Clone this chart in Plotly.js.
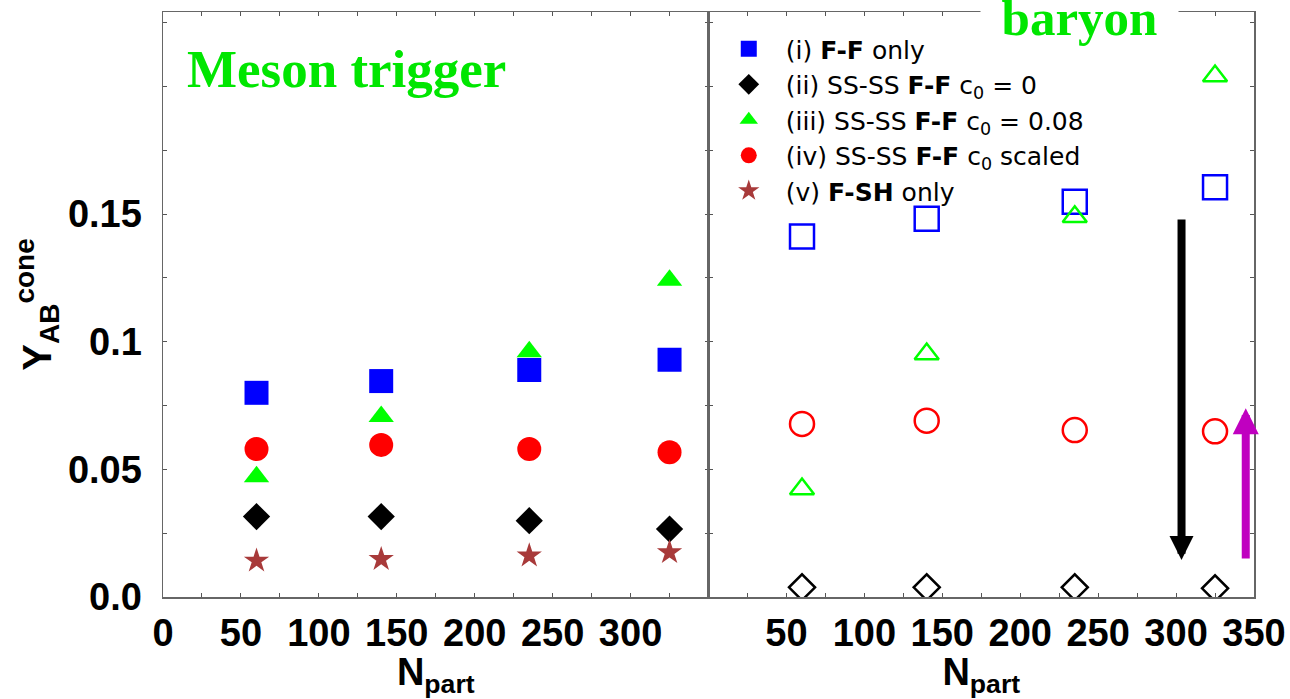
<!DOCTYPE html>
<html><head><meta charset="utf-8">
<script src="https://cdn.plot.ly/plotly-3.0.1.min.js"></script>
<style>html,body{margin:0;padding:0;background:#fff;} #chart{width:1290px;height:699px;}</style>
</head><body><div id="chart"></div>
<script>
// N_part values (centrality bins)
const npart = [60, 140, 235, 325];

// Meson trigger (left panel, filled symbols)
const mesonFF     = [0.0800, 0.0846, 0.0889, 0.0930];
const mesonC0Zero = [0.0315, 0.0315, 0.0299, 0.0266];
const mesonC008   = [0.0471, 0.0707, 0.0961, 0.1241];
const mesonScaled = [0.0580, 0.0596, 0.0580, 0.0567];
const mesonFSH    = [0.0142, 0.0148, 0.0162, 0.0175];

// Baryon trigger (right panel, open symbols)
const baryonFF     = [0.1412, 0.1482, 0.1549, 0.1605];
const baryonC0Zero = [0.0038, 0.0038, 0.0038, 0.0034];
const baryonC008   = [0.0423, 0.0952, 0.1490, 0.2041];
const baryonScaled = [0.0678, 0.0691, 0.0654, 0.0649];

// Legend labels
const seriesNames = [
  '(i) <b>F-F</b> only',
  '(ii) SS-SS <b>F-F</b> c<sub>0</sub> = 0',
  '(iii) SS-SS <b>F-F</b> c<sub>0</sub> = 0.08',
  '(iv) SS-SS <b>F-F</b> c<sub>0</sub> scaled',
  '(v) <b>F-SH</b> only'
];

// Tick labels
const xTickLeftVals  = [0, 50, 100, 150, 200, 250, 300];
const xTickLeftText  = ['0', '50', '100', '150', '200', '250', '300'];
const xTickRightVals = [50, 100, 150, 200, 250, 300, 350];
const xTickRightText = ['50', '100', '150', '200', '250', '300', '350'];
const yTickVals = [0, 0.05, 0.1, 0.15];
const yTickText = ['0.0', '0.05', '0.1', '0.15'];

const BLUE='#0000ff', BLACK='#000000', GREEN='#00ff00', RED='#ff0000', BROWN='#a83a3a';
const TXTGREEN='#00e600';

function filled(y, name, symbol, size, color, rank){
  return {x:npart, y:y, name:name, type:'scatter', mode:'markers', xaxis:'x', yaxis:'y',
    legendrank:rank, marker:{symbol:symbol, size:size, color:color, line:{width:0}}};
}
function open(y, symbol, size, color){
  return {x:npart, y:y, type:'scatter', mode:'markers', xaxis:'x2', yaxis:'y2', showlegend:false,
    marker:{symbol:symbol, size:size, color:color, line:{width:2.5, color:color}}};
}

const data = [
  filled(mesonScaled, seriesNames[3], 'circle', 24, RED, 4),
  filled(mesonC008, seriesNames[2], 'triangle-up', 22, GREEN, 3),
  filled(mesonFF, seriesNames[0], 'square', 24, BLUE, 1),
  filled(mesonC0Zero, seriesNames[1], 'diamond', 21, BLACK, 2),
  filled(mesonFSH, seriesNames[4], 'star', 19, BROWN, 5),
  open(baryonFF, 'square-open', 24, BLUE),
  open(baryonC008, 'triangle-up-open', 21, GREEN),
  open(baryonScaled, 'circle-open', 24, RED),
  open(baryonC0Zero, 'diamond-open', 20, BLACK)
];

const tickFont = {family:'Liberation Sans, Arial, sans-serif', size:38, color:'#000', weight:'bold'};
const titleFont = {family:'Liberation Sans, Arial, sans-serif', size:38, color:'#000', weight:'bold'};
const axBase = {showline:true, linecolor:'#666', linewidth:1.5, mirror:'ticks', ticks:'inside',
  ticklen:4, tickwidth:1, tickcolor:'#555', showgrid:false, zeroline:false, tickmode:'array',
  tickfont:tickFont, automargin:false, fixedrange:true};
const xMinor = {dtick:25, tick0:0, ticks:'inside', ticklen:4, tickwidth:1, tickcolor:'#555', showgrid:false};
const yMinor = {dtick:0.025, tick0:0, ticks:'inside', ticklen:4, tickwidth:1, tickcolor:'#555', showgrid:false};

const layout = {
  width:1290, height:699,
  margin:{l:163, r:36, t:12, b:102, pad:0},
  paper_bgcolor:'#fff', plot_bgcolor:'#fff',
  showlegend:true,
  xaxis: Object.assign({}, axBase, {domain:[0,0.5], range:[0,350], anchor:'y',
    tickvals:xTickLeftVals, ticktext:xTickLeftText, ticklabelstandoff:2, minor:xMinor,
    title:{text:'N<sub>part</sub>', font:titleFont, standoff:5}}),
  xaxis2: Object.assign({}, axBase, {domain:[0.5,1], range:[0,350], anchor:'y2',
    tickvals:xTickRightVals, ticktext:xTickRightText, ticklabelstandoff:2, minor:xMinor,
    title:{text:'N<sub>part</sub>', font:titleFont, standoff:5}}),
  yaxis: Object.assign({}, axBase, {domain:[0,1], range:[0,0.2292], anchor:'x',
    tickvals:yTickVals, ticktext:yTickText, ticklabelstandoff:12, minor:yMinor,
    title:{text:'Y<sub>AB</sub><sup>cone</sup>', font:{family:'Liberation Sans, Arial, sans-serif', size:40, color:'#000', weight:'bold'}, standoff:4}}),
  yaxis2: Object.assign({}, axBase, {domain:[0,1], range:[0,0.2292], anchor:'x2',
    tickvals:yTickVals, showticklabels:false, minor:yMinor}),
  legend:{x:0.503, y:0.976, xanchor:'left', yanchor:'top', bgcolor:'rgba(0,0,0,0)',
    borderwidth:0, itemwidth:64, tracegroupgap:0,
    font:{family:'DejaVu Sans, Verdana, sans-serif', size:25, color:'#000'}},
  annotations:[
    {xref:'paper', yref:'paper', x:0.0202, y:0.9034, xanchor:'left', yanchor:'middle',
     text:'Meson trigger', showarrow:false,
     font:{family:'Liberation Serif, Times New Roman, serif', size:53, color:TXTGREEN, weight:'bold'}},
    {xref:'paper', yref:'paper', x:0.8405, y:0.99, xanchor:'center', yanchor:'middle',
     text:'baryon', showarrow:false, width:197, height:72, bgcolor:'#fff', borderpad:0,
     font:{family:'Liberation Serif, Times New Roman, serif', size:51, color:TXTGREEN, weight:'bold'}},
    {xref:'x2', yref:'y2', axref:'x2', ayref:'y2', x:303.5, y:0.0145, ax:303.5, ay:0.1485,
     text:'', showarrow:true, arrowhead:2, arrowsize:0.6, arrowwidth:8, arrowcolor:'#000',
     standoff:0, startstandoff:0},
    {xref:'x2', yref:'y2', axref:'x2', ayref:'y2', x:344.7, y:0.074, ax:344.7, ay:0.0145,
     text:'', showarrow:true, arrowhead:2, arrowsize:0.65, arrowwidth:8, arrowcolor:'#c000c0',
     standoff:0, startstandoff:0}
  ]
};

Plotly.newPlot('chart', data, layout, {displayModeBar:false, staticPlot:true});
</script>
</body></html>
